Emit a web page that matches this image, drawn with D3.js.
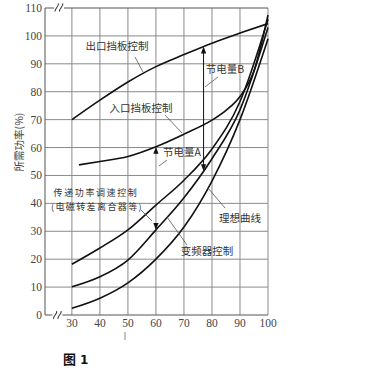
<!DOCTYPE html>
<html><head><meta charset="utf-8">
<script src="https://cdn.jsdelivr.net/npm/d3@7"></script>
<style>
html,body{margin:0;padding:0;background:#fff;}
svg{display:block;}
</style></head>
<body>
<script>
// ---- data ----
const xTicks = [30, 40, 50, 60, 70, 80, 90, 100];
const yTicks = [0, 10, 20, 30, 40, 50, 60, 70, 80, 90, 100, 110];
const outletDamper = [[30,70],[40,77],[50,83.5],[60,89],[70,93.3],[80,97.4],[90,101],[100,104.4]];
const inletDamper  = [[32.5,53.8],[40,55],[50,56.8],[60,60.3],[70,64.8],[80,69.8],[85,73.3],[90,78.3],[95,87.5],[100,107.5]];
const slipControl  = [[30,18.2],[40,24],[50,30.5],[60,39.4],[70,48.3],[80,59.5],[90,76.5],[100,106]];
const vfdControl   = [[30,10.1],[40,13.7],[50,19.7],[60,30.5],[70,42],[80,56],[90,73.5],[100,103]];
const idealCurve   = [[30,2.4],[40,6],[50,11.5],[60,20],[70,31.5],[80,48],[90,70],[100,99]];
const savingA = {x: 60, from: 30.5, to: 60.3};
const savingB = {x: 77, from: 51.5, to: 96.2};

const W = 371, H = 369;
const svg = d3.select("body").append("svg").attr("width", W).attr("height", H);

const x = d3.scaleLinear().domain([20.4, 100]).range([45, 268]);
const y = d3.scaleLinear().domain([0, 110]).range([315, 8]);

const grid = "#8a8a8a";
// grid
svg.append("g").selectAll("line").data(xTicks.filter(d => d < 100)).join("line")
  .attr("x1", d => x(d)).attr("x2", d => x(d)).attr("y1", y(0)).attr("y2", y(110))
  .attr("stroke", grid).attr("stroke-width", 1);
svg.append("g").selectAll("line").data(yTicks.filter(d => d > 0 && d < 110)).join("line")
  .attr("x1", x(20.4)).attr("x2", x(100)).attr("y1", d => y(d)).attr("y2", d => y(d))
  .attr("stroke", grid).attr("stroke-width", 1);
// frame
svg.append("line").attr("x1", x(100)).attr("x2", x(100)).attr("y1", y(0)).attr("y2", y(110)).attr("stroke", grid);
svg.append("line").attr("x1", x(20.4)).attr("x2", x(20.4)).attr("y1", y(0)).attr("y2", y(110)).attr("stroke", "#555");
svg.append("line").attr("x1", x(20.4)).attr("x2", x(100)).attr("y1", y(0)).attr("y2", y(0)).attr("stroke", "#555");
svg.append("line").attr("x1", x(20.4)).attr("x2", x(100)).attr("y1", y(110)).attr("y2", y(110)).attr("stroke", "#555");

// break marks
function breakMark(cx, cy) {
  const g = svg.append("g");
  g.append("rect").attr("x", cx - 5).attr("y", cy - 3).attr("width", 10).attr("height", 6).attr("fill", "#fff");
  [-2.2, 2.2].forEach(dx => {
    g.append("path")
      .attr("d", `M${cx+dx-1.6},${cy+4} C${cx+dx-2.5},${cy+1} ${cx+dx+2.5},${cy-1} ${cx+dx+1.6},${cy-4}`)
      .attr("fill", "none").attr("stroke", "#333").attr("stroke-width", 1.1);
  });
}
breakMark(x(25.4), y(110) - 0.5);
breakMark(x(24.8), y(0));

// tick labels
const tickFont = "'Liberation Serif','DejaVu Serif',serif";
svg.append("g").selectAll("text").data(yTicks).join("text")
  .attr("x", 42).attr("y", d => y(d) + 4).attr("text-anchor", "end")
  .attr("font-family", tickFont).attr("font-size", 11.5).attr("fill", "#444").text(d => d);
svg.append("g").selectAll("text").data(xTicks).join("text")
  .attr("x", d => x(d)).attr("y", y(0) + 12).attr("text-anchor", "middle")
  .attr("font-family", tickFont).attr("font-size", 11.5).attr("fill", "#444").text(d => d);
svg.append("line").attr("x1", 125).attr("x2", 125).attr("y1", 332).attr("y2", 340).attr("stroke", "#888");

// axis title
const cjk = "'Noto Sans CJK SC','Noto Sans CJK JP',sans-serif";
svg.append("text").attr("transform", "translate(23,142) rotate(-90)")
  .attr("text-anchor", "middle").attr("font-family", cjk).attr("font-size", 10.5).attr("fill", "#444")
  .text("所需功率(%)");

// curves
const line = d3.line().x(d => x(d[0])).y(d => y(d[1])).curve(d3.curveMonotoneX);
[outletDamper, inletDamper, slipControl, vfdControl, idealCurve].forEach(s => {
  svg.append("path").attr("d", line(s)).attr("fill", "none").attr("stroke", "#111").attr("stroke-width", 1.6);
});

// arrows
function head(px, py, dir) { // dir -1 up, 1 down; tip at (px,py)
  const h = 7, w = 2.6;
  return `M${px},${py} L${px - w},${py - dir * h} L${px + w},${py - dir * h} Z`;
}
svg.append("path").attr("d", head(x(savingA.x), y(savingA.to), -1)).attr("fill", "#111");
svg.append("path").attr("d", head(x(savingA.x), y(savingA.from), 1)).attr("fill", "#111");
svg.append("line").attr("x1", x(savingB.x)).attr("x2", x(savingB.x))
  .attr("y1", y(savingB.to) + 4).attr("y2", y(savingB.from) - 4).attr("stroke", "#111").attr("stroke-width", 1);
svg.append("path").attr("d", head(x(savingB.x), y(savingB.to), -1)).attr("fill", "#111");
svg.append("path").attr("d", head(x(savingB.x), y(savingB.from), 1)).attr("fill", "#111");

// labels
const labels = [
  {t: "出口挡板控制", x: 117, y: 50, s: 10.5, ls: 0},
  {t: "入口挡板控制", x: 141, y: 112, s: 10.5, ls: 0},
  {t: "节电量B", x: 225, y: 73, s: 10.5, ls: 0},
  {t: "节电量A", x: 182, y: 156, s: 10.5, ls: 0},
  {t: "传递功率调速控制", x: 96, y: 196, s: 9, ls: 1.6},
  {t: "(电磁转差离合器等)", x: 97, y: 209.5, s: 9, ls: 1.4},
  {t: "理想曲线", x: 240, y: 222, s: 10.5, ls: 0},
  {t: "变频器控制", x: 207, y: 255, s: 10.5, ls: 0}
];
svg.append("g").selectAll("text").data(labels).join("text")
  .attr("x", d => d.x).attr("y", d => d.y).attr("text-anchor", "middle")
  .attr("font-family", cjk).attr("font-size", d => d.s)
  .attr("letter-spacing", d => d.ls)
  .attr("fill", "#333").text(d => d.t);

// leader lines
const leaders = [
  [135, 57, 143, 72], [165, 115, 182, 133], [218, 77, 205, 87], [167, 160, 159, 166],
  [141, 210, 152, 221], [225, 208, 208, 188], [187, 245, 167, 217]
];
svg.append("g").selectAll("line").data(leaders).join("line")
  .attr("x1", d => d[0]).attr("y1", d => d[1]).attr("x2", d => d[2]).attr("y2", d => d[3])
  .attr("stroke", "#555").attr("stroke-width", 0.8);

// figure caption
svg.append("text").attr("x", 63).attr("y", 364).attr("font-family", cjk).attr("font-size", 13)
  .attr("font-weight", "bold").attr("fill", "#111").text("图");
svg.append("text").attr("x", 80).attr("y", 364).attr("font-family", "'DejaVu Sans',sans-serif").attr("font-size", 12)
  .attr("font-weight", "bold").attr("fill", "#111").text("1");
</script>
</body></html>
